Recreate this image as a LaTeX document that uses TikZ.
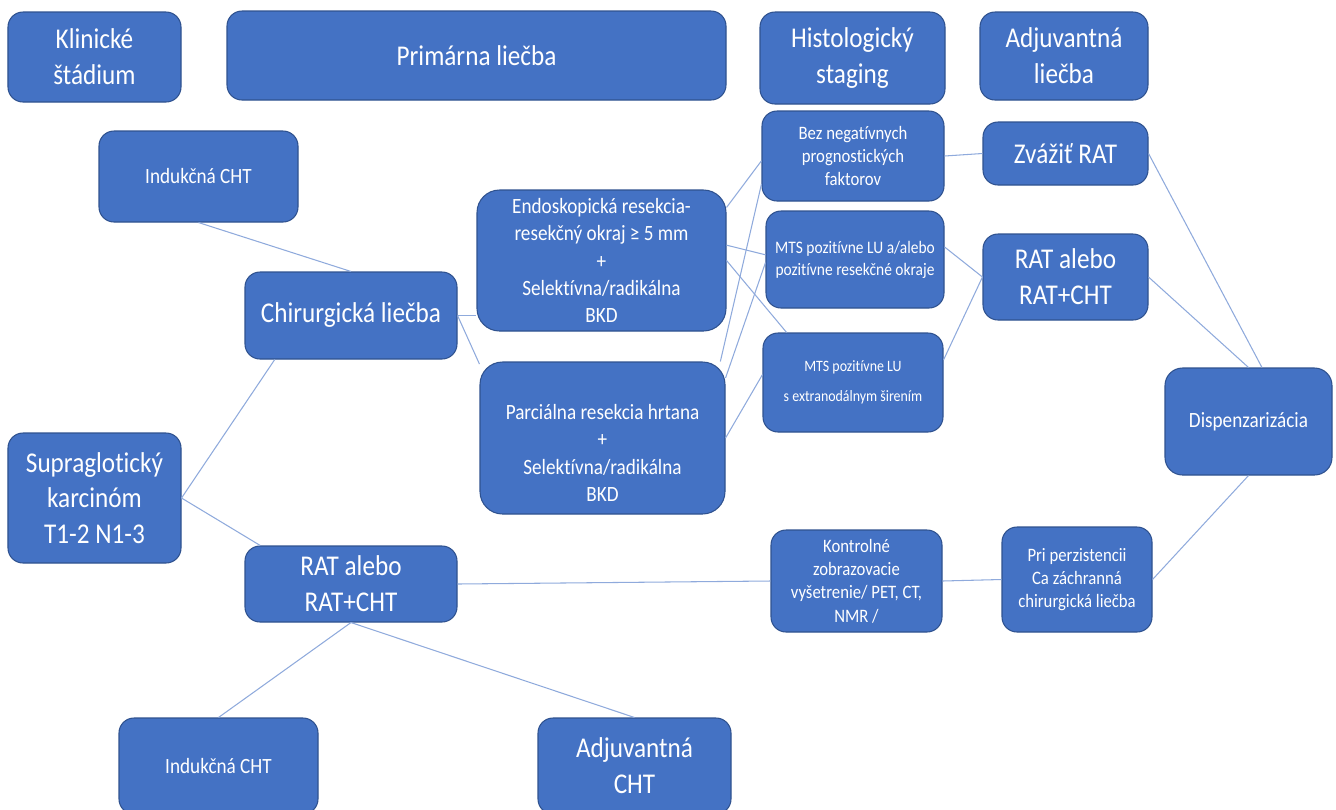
\documentclass[tikz,border=0pt]{standalone}
\usepackage{fontspec}
\setmainfont{Carlito}[FakeStretch=0.88, Ligatures=NoCommon]
\usepackage{tikz}
\definecolor{boxfill}{HTML}{4472C4}
\definecolor{boxline}{HTML}{2F528F}
\definecolor{linkblue}{HTML}{8FAADC}
\tikzset{%
	block/.style     = {draw=boxline, line width=0.6pt, fill=boxfill, text=white,
		align=center, rounded corners=0.3cm, inner sep=1pt},
	bigtext/.style   = {font=\fontsize{16.3}{20.4}\selectfont},
	midtext/.style   = {font=\fontsize{12.4}{15.5}\selectfont},
	smalltext/.style = {font=\fontsize{10.8}{13.3}\selectfont},
	tinytext/.style  = {font=\fontsize{10}{12.5}\selectfont},
	link/.style      = {draw=linkblue, line width=0.6pt} % connector
}

\begin{document}
\begin{tikzpicture}
                \useasboundingbox (0,0) rectangle (26.72,-16.18);

                % header row
                \node[block, bigtext, minimum width=3.46cm, minimum height=1.80cm] (klin) at (1.89,-1.14) {Klinické\\štádium};
                \node[block, bigtext, minimum width=9.98cm, minimum height=1.78cm] (prim) at (9.53,-1.11) {Primárna liečba};
                \node[block, bigtext, minimum width=3.70cm, minimum height=1.84cm] (hist) at (17.05,-1.16) {Histologický\\staging};
                \node[block, bigtext, minimum width=3.36cm, minimum height=1.76cm] (adjl) at (21.28,-1.12) {Adjuvantná\\liečba};

                \node[block, bigtext, minimum width=3.46cm, minimum height=2.60cm] (supra) at (1.89,-9.96) {Supraglotický\\karcinóm\\T1-2 N1-3};

                \node[block, midtext, minimum width=3.98cm, minimum height=1.82cm] (indtop) at (3.97,-3.53) {Indukčná CHT};
                \node[block, bigtext, minimum width=4.24cm, minimum height=1.74cm] (chir) at (7.02,-6.31) {Chirurgická liečba};
                \node[block, bigtext, minimum width=4.24cm, minimum height=1.52cm] (ratl) at (7.02,-11.68) {RAT alebo\\RAT+CHT};
                \node[block, midtext, minimum width=3.98cm, minimum height=1.92cm] (indbot) at (4.37,-15.32) {Indukčná CHT};
                \node[block, bigtext, minimum width=3.86cm, minimum height=1.92cm] (adjc) at (12.69,-15.32) {Adjuvantná\\CHT};

                \node[block, midtext, rounded corners=0.45cm, minimum width=4.98cm, minimum height=2.82cm] (endo) at (12.03,-5.21)
                    {Endoskopická resekcia-\\resekčný okraj ≥ 5 mm\\+\\Selektívna/radikálna\\BKD};
                \node[block, midtext, rounded corners=0.45cm, minimum width=4.90cm, minimum height=3.04cm] (parc) at (12.05,-8.76)
                    {\mbox{}\\[10pt]Parciálna resekcia hrtana\\+\\Selektívna/radikálna\\BKD};

                % histologicky staging
                \node[block, smalltext, minimum width=3.64cm, minimum height=1.80cm] (bez) at (17.06,-3.12) {Bez negatívnych\\prognostických\\faktorov};
                \node[block, tinytext, minimum width=3.56cm, minimum height=1.94cm] (mtsa) at (17.10,-5.19) {MTS pozitívne LU a/alebo\\pozitívne resekčné okraje};
                \node[block, font=\fontsize{9}{17}\selectfont, minimum width=3.60cm, minimum height=1.98cm] (mtse) at (17.06,-7.65) {MTS pozitívne LU\\s extranodálnym širením};
                \node[block, smalltext, minimum width=3.42cm, minimum height=2.04cm] (kontr) at (17.13,-11.62) {Kontrolné\\zobrazovacie\\vyšetrenie/ PET, CT,\\NMR /};

                % adjuvantna liecba
                \node[block, bigtext, minimum width=3.30cm, minimum height=1.26cm] (zvaz) at (21.31,-3.07) {Zvážiť RAT};
                \node[block, bigtext, minimum width=3.30cm, minimum height=1.72cm] (ratr) at (21.31,-5.54) {RAT alebo\\RAT+CHT};
                \node[block, smalltext, minimum width=3.00cm, minimum height=2.10cm] (pri) at (21.54,-11.59) {Pri perzistencii\\Ca záchranná\\chirurgická liečba};
                \node[block, midtext, rounded corners=0.35cm, minimum width=3.34cm, minimum height=2.14cm] (disp) at (24.97,-8.43) {Dispenzarizácia};

                \draw[link] (indtop.south) -- (chir.north);
                \draw[link] (supra.east)   -- (chir.210);
                \draw[link] (supra.east)   -- (ratl.157);
                \draw[link] (chir.east)    -- (chir.east -| endo.west);
                \draw[link] (chir.east)    -- (parc.149);
                \draw[link] (ratl.south)   -- (indbot.north);
                \draw[link] (ratl.south)   -- (adjc.north);
                \draw[link] (ratl.east)    -- (kontr.west);

                \draw[link] (endo.23)   -- (bez.183);
                \draw[link] (endo.7)    -- (mtsa.177);
                \draw[link] (endo.east) -- (mtse.143);
                \draw[link] (parc.33)   -- (bez.197);
                \draw[link] (parc.26)   -- (mtsa.182);
                \draw[link] (parc.east) -- (mtse.175);

                \draw[link] (bez.east)   -- (zvaz.west);
                \draw[link] (mtsa.8)     -- (ratr.west);
                \draw[link] (mtse.14)    -- (ratr.west);
                \draw[link] (kontr.east) -- (pri.west);

                \draw[link] (zvaz.east)  -- (disp.76);
                \draw[link] (ratr.east)  -- (disp.north);
                \draw[link] (pri.east)   -- (disp.south);
            \end{tikzpicture}
\end{document}
